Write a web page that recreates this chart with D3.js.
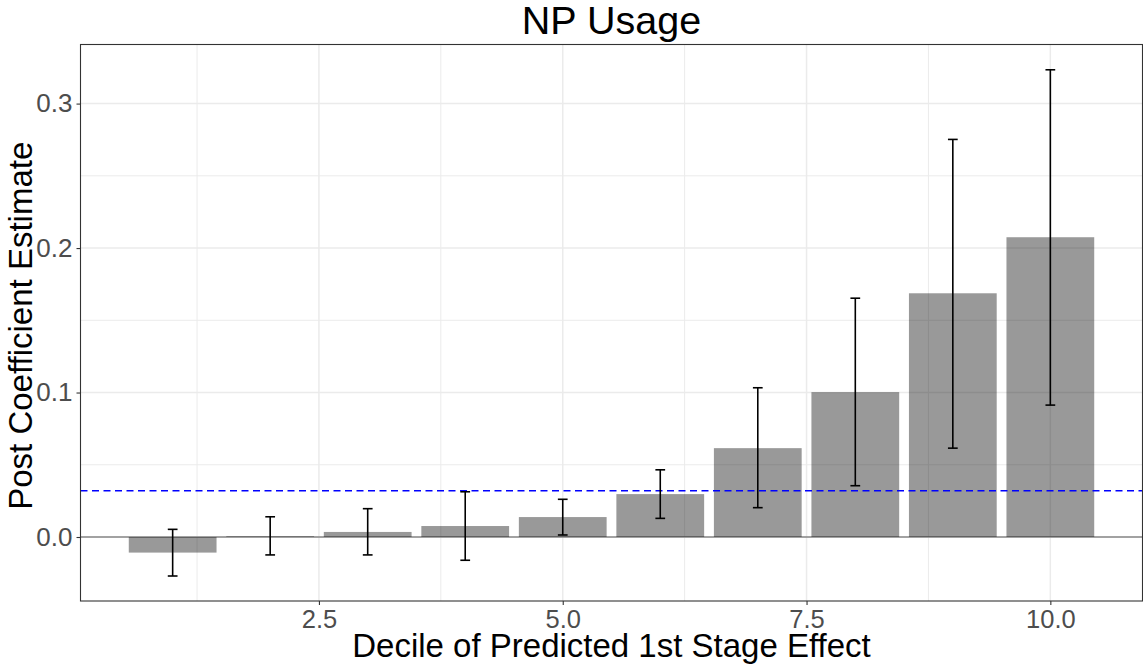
<!DOCTYPE html>
<html>
<head>
<meta charset="utf-8">
<script src="https://cdn.jsdelivr.net/npm/d3@7"></script>
<style>
  html, body { margin: 0; padding: 0; background: #fff; }
  svg { display: block; font-family: "Liberation Sans", Arial, Helvetica, sans-serif; }
</style>
</head>
<body>
<svg id="chart" width="1143" height="666"></svg>
<script>
// ---- data ----
const title = "NP Usage";
const xLabel = "Decile of Predicted 1st Stage Effect";
const yLabel = "Post Coefficient Estimate";
const deciles = [1, 2, 3, 4, 5, 6, 7, 8, 9, 10];
const estimates = [-0.0108, 0.0005, 0.0035, 0.0076, 0.0138, 0.0297, 0.0615, 0.1003, 0.1687, 0.2075];
const ciLow  = [-0.0270, -0.0124, -0.0124, -0.0161, 0.0014, 0.0129, 0.0203, 0.0355, 0.0615, 0.0913];
const ciHigh = [0.0053, 0.0140, 0.0196, 0.0313, 0.0261, 0.0465, 0.1033, 0.1653, 0.2752, 0.3234];
const refLine = 0.032;
const xTicks = [2.5, 5.0, 7.5, 10.0];
const xMinor = [1.25, 3.75, 6.25, 8.75];
const yTicks = [0.0, 0.1, 0.2, 0.3];
const yMinor = [0.05, 0.15, 0.25];

// ---- layout ----
const svg = d3.select("#chart");
const P = { left: 80.5, right: 1142.5, top: 44.5, bottom: 601 };

const x = d3.scaleLinear().domain([0.055, 10.945]).range([P.left, P.right]);
const y = d3.scaleLinear().domain([-0.0443, 0.3409]).range([P.bottom, P.top]);

const barW = 0.9, capW = 0.1;

// grid
const grid = svg.append("g");
grid.selectAll(".ymin").data(yMinor).join("line")
  .attr("x1", P.left).attr("x2", P.right)
  .attr("y1", d => y(d)).attr("y2", d => y(d))
  .attr("stroke", "#EBEBEB").attr("stroke-width", 1);
grid.selectAll(".xmin").data(xMinor).join("line")
  .attr("y1", P.top).attr("y2", P.bottom)
  .attr("x1", d => x(d)).attr("x2", d => x(d))
  .attr("stroke", "#EBEBEB").attr("stroke-width", 1);
grid.selectAll(".ymaj").data(yTicks).join("line")
  .attr("x1", P.left).attr("x2", P.right)
  .attr("y1", d => y(d)).attr("y2", d => y(d))
  .attr("stroke", "#EBEBEB").attr("stroke-width", 1.5);
grid.selectAll(".xmaj").data(xTicks).join("line")
  .attr("y1", P.top).attr("y2", P.bottom)
  .attr("x1", d => x(d)).attr("x2", d => x(d))
  .attr("stroke", "#EBEBEB").attr("stroke-width", 1.5);

// zero line
svg.append("line")
  .attr("x1", P.left).attr("x2", P.right)
  .attr("y1", y(0)).attr("y2", y(0))
  .attr("stroke", "#555555").attr("stroke-width", 1.1);

// bars
const rows = deciles.map((d, i) => ({ d, v: estimates[i], lo: ciLow[i], hi: ciHigh[i] }));
svg.append("g").selectAll("rect").data(rows).join("rect")
  .attr("x", r => x(r.d - barW / 2))
  .attr("width", r => x(r.d + barW / 2) - x(r.d - barW / 2))
  .attr("y", r => y(Math.max(0, r.v)))
  .attr("height", r => Math.abs(y(r.v) - y(0)))
  .attr("fill", "#000").attr("fill-opacity", 0.4);

// reference dashed line
svg.append("line")
  .attr("x1", P.left).attr("x2", P.right)
  .attr("y1", y(refLine)).attr("y2", y(refLine))
  .attr("stroke", "#0000FF").attr("stroke-width", 1.3)
  .attr("stroke-dasharray", "7,4.5");

// error bars
const eb = svg.append("g").attr("stroke", "#000").attr("stroke-width", 1.6).attr("fill", "none");
eb.selectAll(".v").data(rows).join("line")
  .attr("x1", r => x(r.d)).attr("x2", r => x(r.d))
  .attr("y1", r => y(r.lo)).attr("y2", r => y(r.hi));
eb.selectAll(".t").data(rows).join("line")
  .attr("x1", r => x(r.d - capW / 2)).attr("x2", r => x(r.d + capW / 2))
  .attr("y1", r => y(r.hi)).attr("y2", r => y(r.hi));
eb.selectAll(".b").data(rows).join("line")
  .attr("x1", r => x(r.d - capW / 2)).attr("x2", r => x(r.d + capW / 2))
  .attr("y1", r => y(r.lo)).attr("y2", r => y(r.lo));

// panel border
svg.append("rect")
  .attr("x", P.left).attr("y", P.top)
  .attr("width", P.right - P.left).attr("height", P.bottom - P.top)
  .attr("fill", "none").attr("stroke", "#333333").attr("stroke-width", 1.1);

// axes
const xAxis = d3.axisBottom(x).tickValues(xTicks).tickFormat(d3.format(".1f"))
  .tickSize(4).tickPadding(5);
const gx = svg.append("g").attr("transform", `translate(0,${P.bottom})`).call(xAxis);
gx.select(".domain").remove();
gx.selectAll(".tick line").attr("stroke", "#333333").attr("stroke-width", 1.1);
gx.selectAll(".tick text").attr("fill", "#4D4D4D").attr("font-size", 25.5)
  .attr("font-family", "Liberation Sans, Arial, sans-serif");

const yAxis = d3.axisLeft(y).tickValues(yTicks).tickFormat(d3.format(".1f"))
  .tickSize(4).tickPadding(4);
const gy = svg.append("g").attr("transform", `translate(${P.left},0)`).call(yAxis);
gy.select(".domain").remove();
gy.selectAll(".tick line").attr("stroke", "#333333").attr("stroke-width", 1.1);
gy.selectAll(".tick text").attr("fill", "#4D4D4D").attr("font-size", 26)
  .attr("font-family", "Liberation Sans, Arial, sans-serif");

// titles
svg.append("text")
  .attr("x", (P.left + P.right) / 2).attr("y", 33.5)
  .attr("text-anchor", "middle").attr("font-size", 39.5).attr("fill", "#000")
  .text(title);
svg.append("text")
  .attr("x", (P.left + P.right) / 2).attr("y", 657)
  .attr("text-anchor", "middle").attr("font-size", 33).attr("fill", "#000")
  .text(xLabel);
svg.append("text")
  .attr("transform", `translate(32,${(P.top + P.bottom) / 2 + 3}) rotate(-90)`)
  .attr("text-anchor", "middle").attr("font-size", 33).attr("fill", "#000")
  .text(yLabel);
</script>
</body>
</html>
